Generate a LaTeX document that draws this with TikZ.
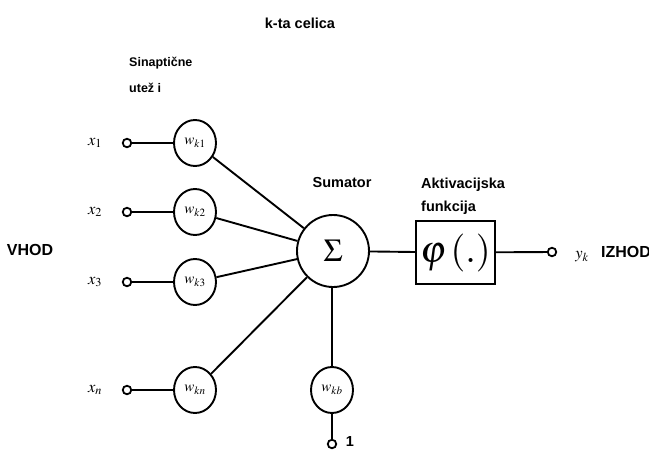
\documentclass[tikz,border=0pt]{standalone}
\usepackage{mathptmx}
\usepackage{fontspec}
\setmainfont{Liberation Sans}
\usetikzlibrary{shapes.geometric}
\begin{document}
\begin{tikzpicture}[x=1pt,y=-1pt,
  lbl/.style={font=\bfseries\fontsize{14.5}{16}\selectfont, inner sep=0pt},
  big/.style={font=\bfseries\fontsize{16}{18}\selectfont, inner sep=0pt},
  sml/.style={font=\bfseries\fontsize{12.5}{14}\selectfont, inner sep=0pt},
  wt/.style={draw, line width=1.9pt, shape=ellipse, minimum width=42pt, minimum height=46pt, inner sep=0pt, font=\fontsize{15}{17}\selectfont},
  term/.style={draw, line width=1.8pt, circle, minimum size=8.5pt, inner sep=0pt, fill=white},
  inl/.style={font=\fontsize{16.5}{18}\selectfont, inner sep=0pt},
  conn/.style={line width=1.9pt}]
\useasboundingbox (0,0) rectangle (649,450);
\node[sml, font=\bfseries\fontsize{14.5}{16}\selectfont] (title) at (300,23) {k-ta celica};
\node[sml, anchor=west] (sin1) at (129,63) {Sinaptične};
\node[sml, anchor=west] (sin2) at (129,88) {utež i};
\node[big] (vhod) at (30,250) {VHOD};
\node[lbl] (sumlbl) at (342,183) {Sumator};
\node[lbl, anchor=west] (akt1) at (421,185) {Aktivacijska};
\node[lbl, anchor=west] (akt2) at (421,208) {funkcija};

\foreach \i/\y/\s in {1/143/1, 2/212/2, 3/282/3, n/390/n} {
  \node[inl] (x\i) at (95,\y) {$x_{\s}$};
  \node[term] (t\i) at (127,\y) {};
  \node[wt] (w\i) at (195,\y) {$w_{k\s}$};
}
\node[draw, line width=1.9pt, circle, minimum size=72pt, inner sep=0pt, font=\fontsize{32}{34}\selectfont] (sum) at (333,251) {$\Sigma$};
\node[draw, line width=1.9pt, minimum width=79pt, minimum height=63pt, inner sep=0pt, font=\fontsize{38}{40}\selectfont] (act) at (455.5,252.5) {$\varphi\,(.)$};
\node[term] (tout) at (552,252) {};
\node[inl] (yk) at (582,257) {$y_k$};
\node[big, anchor=west] (izhod) at (601,252) {IZHOD};
\node[wt] (wb) at (332,390) {$w_{kb}$};
\node[term] (tb) at (332,444) {};
\node[lbl] (one) at (350,442) {1};

\foreach \i in {1,2,3,n} {
  \draw[conn] (t\i) -- (w\i);
  \draw[conn] (w\i) -- (sum);
}
\draw[conn] (sum) -- (act);
\draw[conn] (act) -- (tout);
\draw[conn] (sum.south -| wb.north) -- (wb);
\draw[conn] (wb) -- (tb);
\end{tikzpicture}
\end{document}
